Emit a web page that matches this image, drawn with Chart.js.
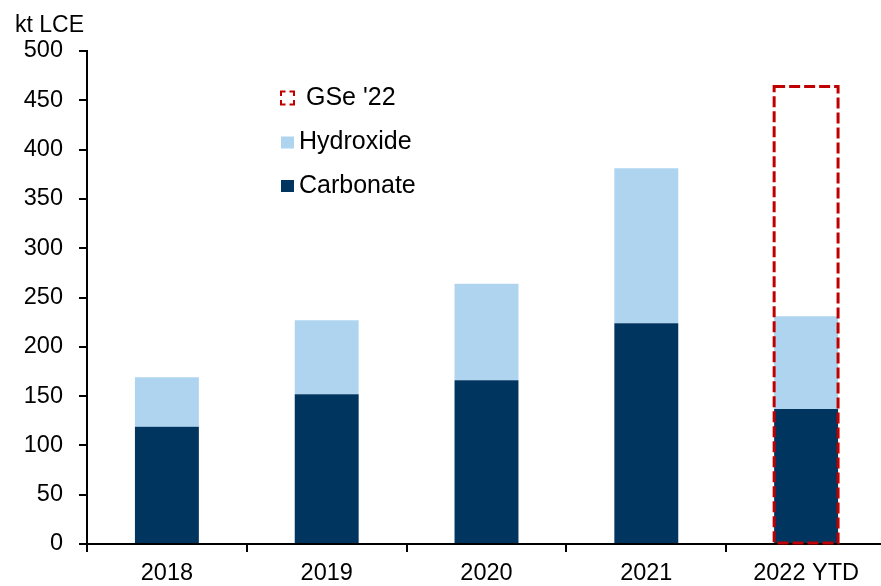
<!DOCTYPE html>
<html><head><meta charset="utf-8">
<script src="https://cdn.jsdelivr.net/npm/chart.js@4"></script>
<style>html,body{margin:0;padding:0;overflow:hidden;background:#fff}#wrap{width:886px;height:586px;position:relative}</style>
</head><body><div id="wrap"><canvas id="c"></canvas></div>
<script>
const categories = ['2018', '2019', '2020', '2021', '2022 YTD'];
const carbonate = [119, 152, 166, 224, 137];
const hydroxide = [50, 75, 98, 157, 94];
const gse22 = [null, null, null, null, 464];
const unitLabel = 'kt LCE';
const yMin = 0, yMax = 500, yStep = 50;

const FONT = "'Liberation Sans', Arial, sans-serif";
const C_CARB = '#00355F', C_HYD = '#AED4F0', C_RED = '#C00000';

const dashedBox = {
  id: 'dashedBox',
  afterDatasetsDraw(chart) {
    const ctx = chart.ctx;
    const meta = chart.getDatasetMeta(2);
    ctx.save();
    ctx.strokeStyle = C_RED; ctx.lineWidth = 3; ctx.setLineDash([11, 4]);
    meta.data.forEach((el, i) => {
      if (gse22[i] == null) return;
      const p = el.getProps(['x', 'y', 'base', 'width'], true);
      ctx.strokeRect(p.x - p.width / 2, p.y, p.width, p.base - p.y);
    });
    ctx.restore();
  }
};

const extras = {
  id: 'extras',
  afterDraw(chart) {
    const ctx = chart.ctx;
    ctx.save();
    ctx.fillStyle = '#000';
    ctx.font = '23px ' + FONT;
    ctx.textBaseline = 'alphabetic';
    ctx.textAlign = 'left';
    ctx.fillText(unitLabel, 15, 31.5);
    // legend
    ctx.font = '25px ' + FONT;
    ctx.textBaseline = 'middle';
    const ds = chart.data.datasets;
    const items = [
      {label: ds[2].label, type: 'dash', y: 98, tx: 306},
      {label: ds[1].label, color: C_HYD, y: 142.5, tx: 299},
      {label: ds[0].label, color: C_CARB, y: 186, tx: 299}
    ];
    items.forEach(it => {
      if (it.type === 'dash') {
        ctx.strokeStyle = C_RED; ctx.lineWidth = 2; ctx.setLineDash([9, 4]);
        ctx.lineDashOffset = 4.5;
        ctx.strokeRect(281, it.y - 6.5, 13, 13);
        ctx.setLineDash([]);
      } else {
        ctx.fillStyle = it.color;
        ctx.fillRect(281, it.y - 6, 13, 12);
      }
      ctx.fillStyle = '#000';
      ctx.fillText(it.label, it.tx, it.y);
    });
    ctx.restore();
  }
};

new Chart(document.getElementById('c'), {
  type: 'bar',
  data: {
    labels: categories,
    datasets: [
      {label: 'Carbonate', data: carbonate, backgroundColor: C_CARB, stack: 's', borderWidth: 0},
      {label: 'Hydroxide', data: hydroxide, backgroundColor: C_HYD, stack: 's', borderWidth: 0},
      {label: "GSe '22", data: gse22, backgroundColor: 'rgba(0,0,0,0)', stack: 'g', grouped: false, borderWidth: 0}
    ]
  },
  options: {
    responsive: true, maintainAspectRatio: false, animation: false,
    layout: {padding: {top: 51, left: 0, right: 0, bottom: 0}},
    datasets: {bar: {categoryPercentage: 1, barPercentage: 0.4}},
    plugins: {legend: {display: false}, tooltip: {enabled: false}, title: {display: false}},
    scales: {
      x: {
        stacked: true,
        afterFit: s => { s.height = 42; },
        grid: {display: true, drawOnChartArea: false, drawTicks: true, tickLength: 8, color: '#000', lineWidth: 2, offset: true},
        border: {display: true, color: '#000', width: 2},
        ticks: {color: '#000', font: {family: FONT, size: 23.5}, padding: 7, maxRotation: 0, autoSkip: false}
      },
      y: {
        stacked: true, min: yMin, max: yMax,
        afterFit: s => { s.width = 87; },
        grid: {display: true, drawOnChartArea: false, drawTicks: true, tickLength: 8, color: '#000', lineWidth: 2},
        border: {display: true, color: '#000', width: 2},
        ticks: {stepSize: yStep, color: '#000', font: {family: FONT, size: 23.5}, padding: 16}
      }
    }
  },
  plugins: [dashedBox, extras]
});
</script></body></html>
